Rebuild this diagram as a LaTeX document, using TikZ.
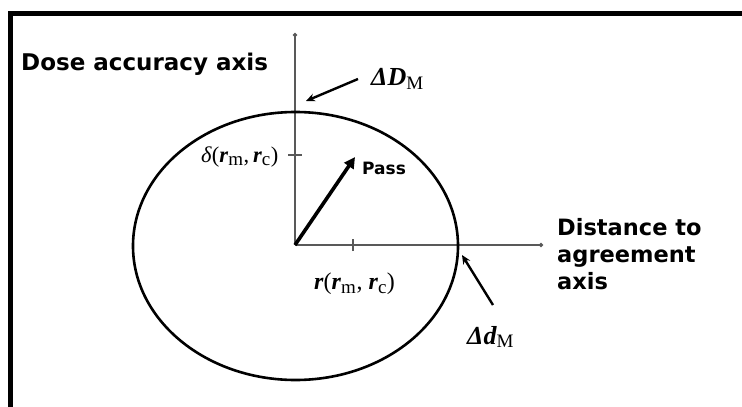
\documentclass[tikz,border=0pt]{standalone}
\usepackage{fontspec}
\setmainfont{Liberation Serif}
\newfontfamily\verd{DejaVu Sans}
\usetikzlibrary{arrows.meta}
\tikzset{
  axisline/.style={draw=black!65, line width=1.4pt, -{Circle[length=4pt]}},
  tickmark/.style={draw=black!65, line width=1.2pt},
  ellipseline/.style={draw=black, line width=2.6pt},
  pointer/.style={draw=black, line width=2.4pt, -{Stealth[length=9pt,width=8pt]}},
  passarrow/.style={draw=black, line width=3.6pt, -{Triangle[length=11pt,width=11pt]}},
  boldlabel/.style={font=\verd\bfseries\fontsize{22.5}{27}\selectfont, inner sep=0pt},
  mathlabel/.style={font=\bfseries\itshape\fontsize{26}{28}\selectfont, inner sep=0pt},
  framebar/.style={fill=black, draw=none}
}
\newcommand{\msub}[1]{\textsubscript{\normalfont\fontsize{19}{19}\selectfont #1}}
\begin{document}
\begin{tikzpicture}[x=1pt,y=-1pt]
\useasboundingbox (0,0) rectangle (742,407);
% frame
\fill[framebar] (8,11) rectangle (742,16);
\fill[framebar] (8,11) rectangle (13,407);
% axes
\coordinate (O) at (295,245);
\coordinate (ytop) at (295,33);
\coordinate (xend) at (543,245);
\draw[axisline] (O) -- (ytop);
\draw[axisline] (O) -- (xend);
% ticks
\coordinate (ty) at (295,155);
\coordinate (tx) at (353,245);
\draw[tickmark] ([xshift=-7pt]ty) -- ([xshift=7pt]ty);
\draw[tickmark] ([yshift=-6pt]tx) -- ([yshift=6pt]tx);
% ellipse
\draw[ellipseline] (295.5,246) ellipse [x radius=162.5, y radius=134];
% pass arrow
\coordinate (ptip) at (355,157);
\draw[passarrow] (O) -- (ptip);
\node[boldlabel, font=\verd\bfseries\fontsize{17}{20}\selectfont, anchor=west] (pass) at (362,168) {Pass};
% labels
\node[boldlabel, font=\verd\bfseries\fontsize{23}{27}\selectfont, anchor=west] (dose) at (21,64) {Dose accuracy axis};
\node[boldlabel, anchor=west, align=left] (dta) at (557,254) {Distance to\\agreement\\axis};
\node[mathlabel, anchor=west] (dD) at (371,79) {ΔD\msub{M}};
\node[mathlabel, anchor=west] (dd) at (467,337) {Δd\msub{M}};
\node[mathlabel, font=\fontsize{22.5}{26}\selectfont, anchor=west] (delta) at (201,157) {\textit{δ}(\textbf{\textit{r}}\msub{m},\,\textbf{\textit{r}}\msub{c})};
\node[mathlabel, font=\fontsize{24}{26}\selectfont, anchor=west] (rr) at (314,284) {\textbf{\textit{r}}(\textbf{\textit{r}}\msub{m}, \textbf{\textit{r}}\msub{c})};
% pointers
\coordinate (dDtail) at (358,79);
\coordinate (dDhead) at (306,101);
\draw[pointer] (dDtail) -- (dDhead);
\coordinate (ddtail) at (493,305);
\coordinate (ddhead) at (462,255);
\draw[pointer] (ddtail) -- (ddhead);
\end{tikzpicture}
\end{document}
